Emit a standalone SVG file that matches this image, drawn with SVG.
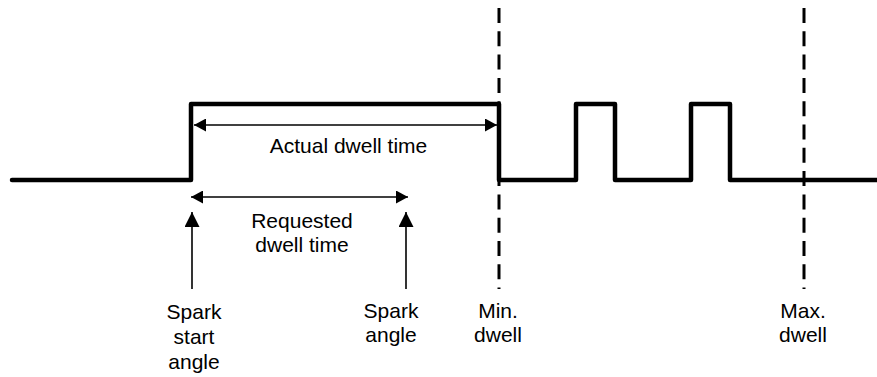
<svg xmlns="http://www.w3.org/2000/svg" width="877" height="377" viewBox="0 0 877 377">
  <style>
    .wave { fill: none; stroke: #000; stroke-width: 4.5; stroke-linejoin: round; stroke-linecap: round; }
    .dash { fill: none; stroke: #000; stroke-width: 3; stroke-dasharray: 15 8.3; }
    .arr { fill: none; stroke: #000; stroke-width: 1.6; }
    text { font-family: "Liberation Sans", Arial, sans-serif; font-size: 21px; fill: #000; text-anchor: middle; }
  </style>
  <defs>
    <marker id="ah" markerUnits="userSpaceOnUse" markerWidth="12" markerHeight="13" refX="12" refY="6.5" orient="auto-start-reverse" viewBox="0 0 12 13">
      <path d="M0,0 L12,6.5 L0,13 z" fill="#000"/>
    </marker>
    <marker id="av" markerUnits="userSpaceOnUse" markerWidth="15" markerHeight="15" refX="15" refY="7.5" orient="auto" viewBox="0 0 15 15">
      <path d="M0,0 L15,7.5 L0,15 z" fill="#000"/>
    </marker>
  </defs>

  <g id="waveform">
    <path class="wave" d="M12,180 H191 V104 H499 V180 H576 V104 H615 V180 H691 V104 H730 V180 H880"/>
  </g>

  <g id="connectors">
    <line class="dash" x1="499" y1="8" x2="499" y2="289"/>
    <line class="dash" x1="804" y1="8" x2="804" y2="289"/>
    <line class="arr" x1="194" y1="125" x2="497" y2="125" marker-start="url(#ah)" marker-end="url(#ah)"/>
    <line class="arr" x1="191" y1="197" x2="408" y2="197" marker-start="url(#ah)" marker-end="url(#ah)"/>
    <line class="arr" x1="192" y1="289" x2="192" y2="212" marker-end="url(#av)"/>
    <line class="arr" x1="406" y1="289" x2="406" y2="212" marker-end="url(#av)"/>
  </g>

  <g id="label-actual">
    <text x="348.5" y="153">Actual dwell time</text>
  </g>
  <g id="label-requested">
    <text x="302" y="228">Requested</text>
    <text x="302" y="252">dwell time</text>
  </g>
  <g id="label-spark-start">
    <text x="194" y="319">Spark</text>
    <text x="194" y="344">start</text>
    <text x="194" y="369">angle</text>
  </g>
  <g id="label-spark-angle">
    <text x="391" y="318">Spark</text>
    <text x="391" y="342">angle</text>
  </g>
  <g id="label-min-dwell">
    <text x="498" y="318">Min.</text>
    <text x="498" y="342">dwell</text>
  </g>
  <g id="label-max-dwell">
    <text x="803" y="318">Max.</text>
    <text x="803" y="342">dwell</text>
  </g>
</svg>
